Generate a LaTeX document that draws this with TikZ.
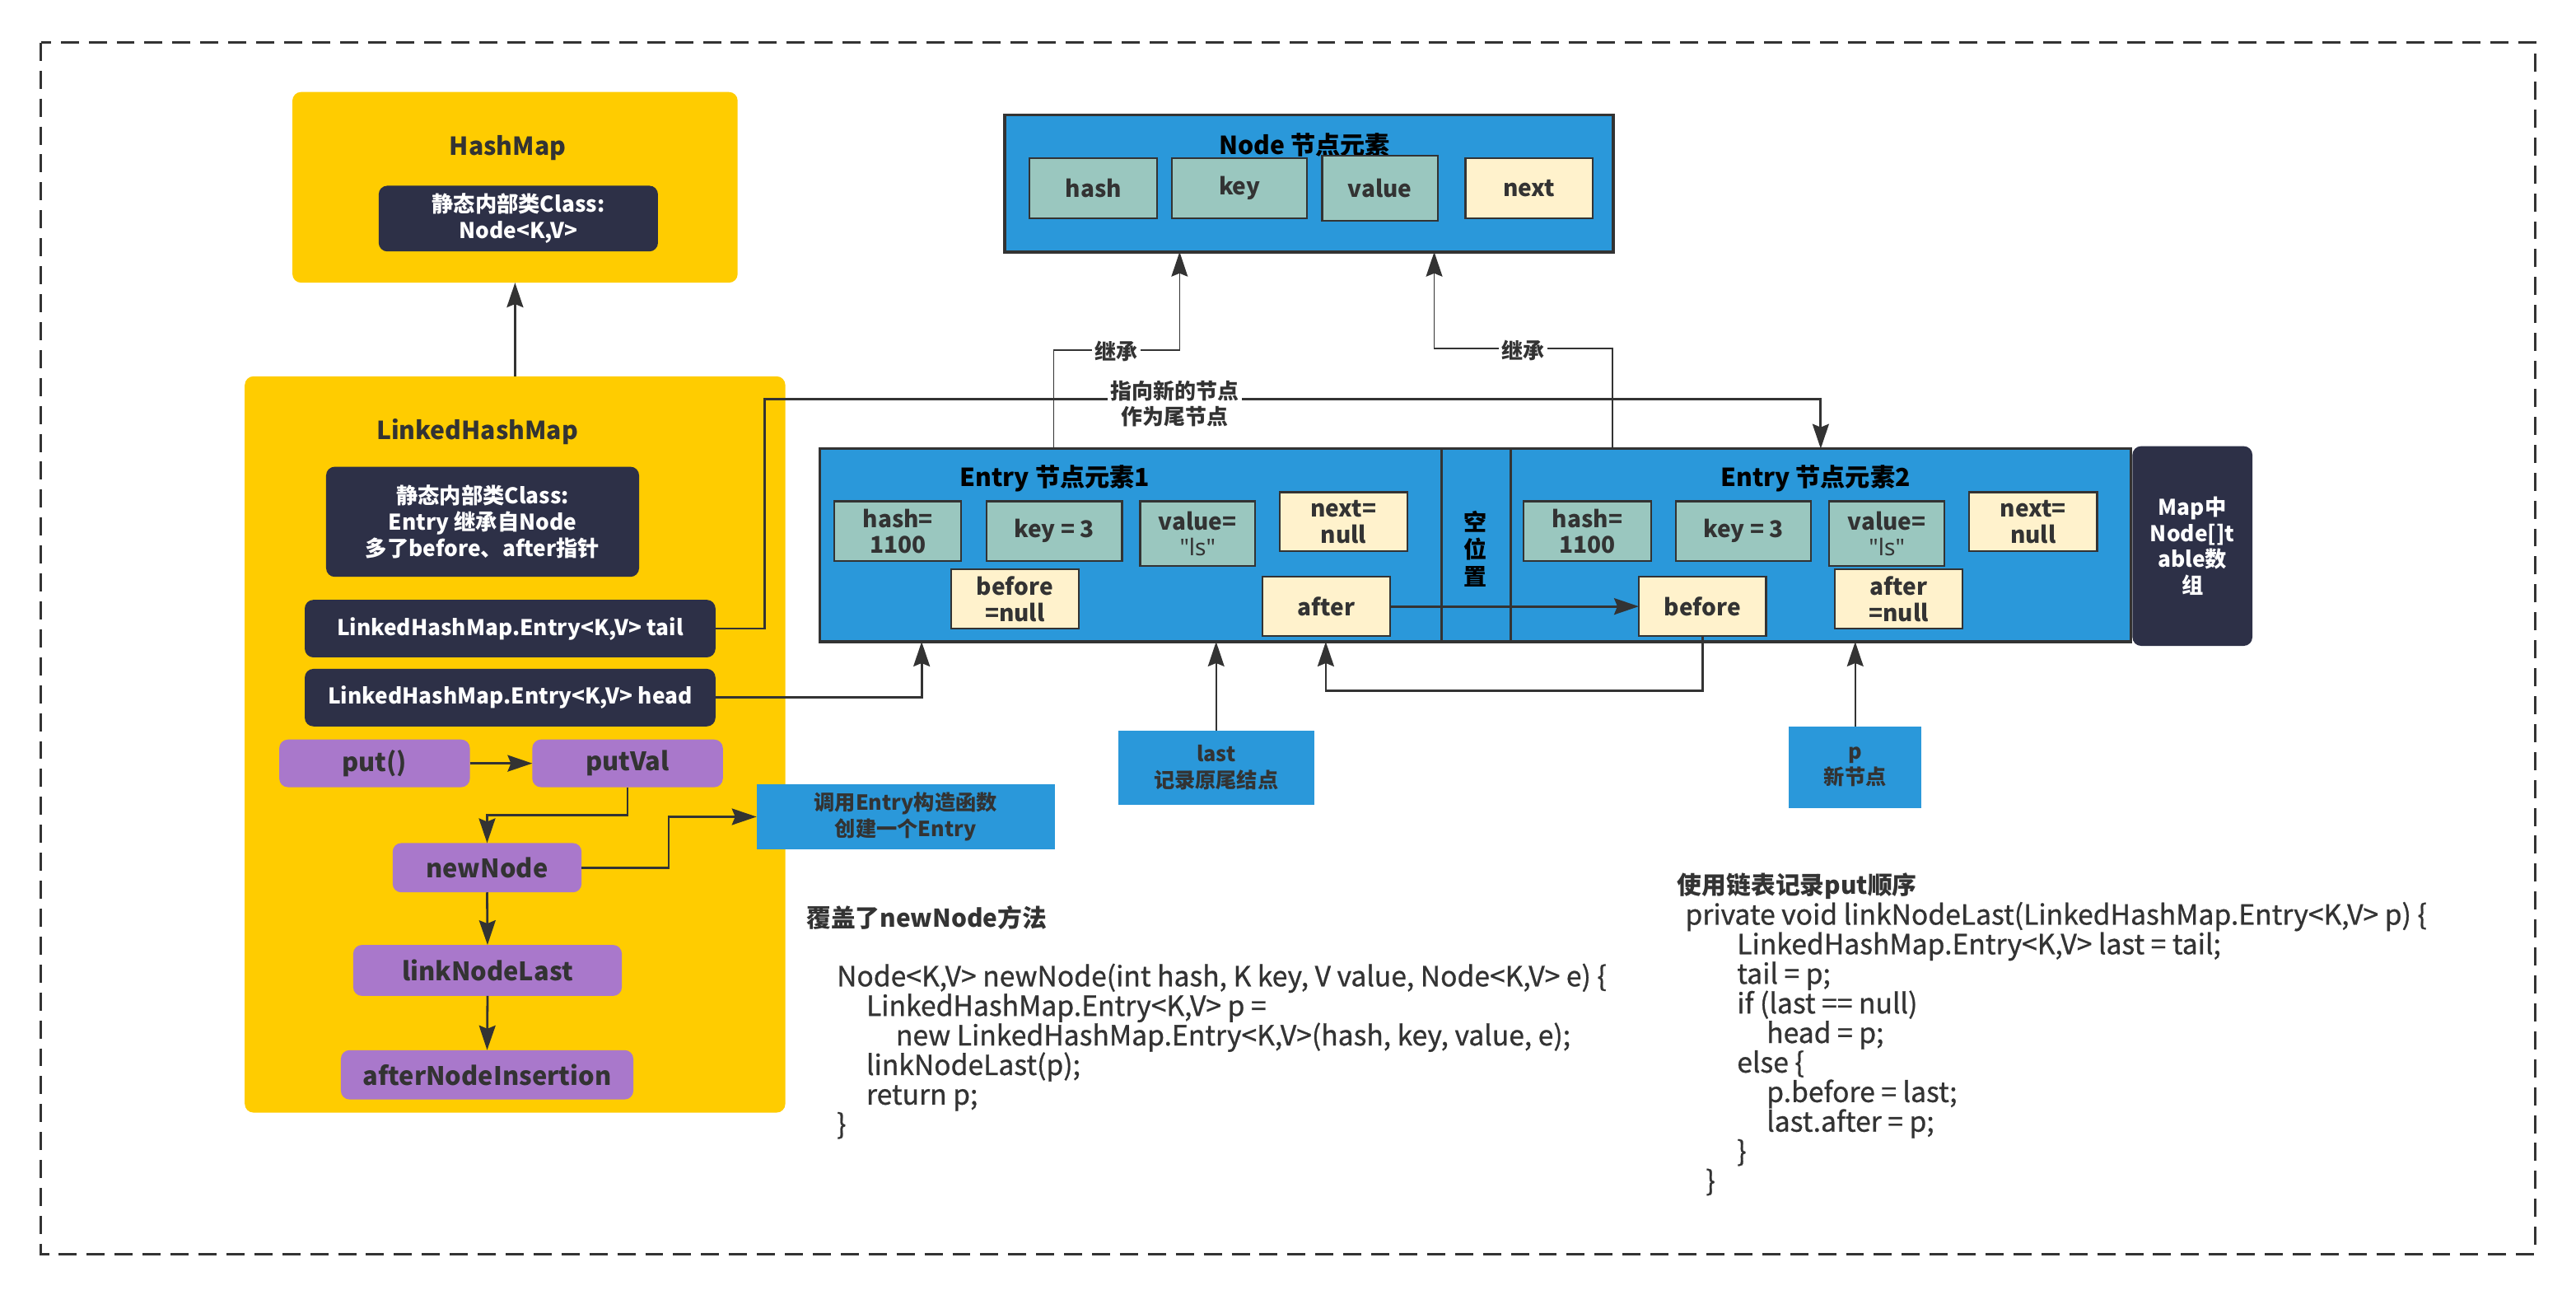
\documentclass[tikz,border=0pt]{standalone}
\usepackage{fontspec}
\setmainfont{Noto Sans CJK SC}
\newfontfamily\codefont{Noto Sans CJK SC}[FakeBold=0.8]
\newfontfamily\latinf{Noto Sans}
\usetikzlibrary{arrows.meta}
\definecolor{ylw}{HTML}{FFCC00}
\definecolor{navy}{HTML}{2D3047}
\definecolor{purp}{HTML}{A978CB}
\definecolor{blu}{HTML}{2A98DA}
\definecolor{tealc}{HTML}{9AC7BF}
\definecolor{cream}{HTML}{FFF2CC}
\definecolor{bord}{HTML}{333333}
\definecolor{txt}{HTML}{333333}
\newcommand{\mkbox}[7]{\node[#1,minimum width={(#5-#3)*0.02cm},minimum height={(#6-#4)*0.02cm}] (#2) at ({(#3+#5)/2},{(#4+#6)/2}) {#7};}
\newcommand{\lsq}{{\latinf\bfseries "ls"}}
\tikzset{
  bx/.style={rectangle,inner sep=0pt,outer sep=0pt,align=center,text=txt,font=\fontsize{8}{9}\selectfont\bfseries},
  ybox/.style={bx,fill=ylw,rounded corners=3pt},
  nbox/.style={bx,fill=navy,rounded corners=3pt,text=white,font=\fontsize{7.5}{9}\selectfont\bfseries},
  pbox/.style={bx,fill=purp,rounded corners=3pt,font=\fontsize{8.8}{10}\selectfont\bfseries},
  bbox/.style={bx,fill=blu,font=\fontsize{7.2}{8.9}\selectfont\bfseries},
  ebox/.style={bx,fill=blu,draw=bord,line width=1pt},
  tbox/.style={bx,fill=tealc,draw=bord,line width=0.6pt},
  cbox/.style={bx,fill=cream,draw=bord,line width=0.6pt},
  ttl/.style={inner sep=0pt,font=\fontsize{8.6}{10}\selectfont\bfseries,text=black},
  lbl/.style={inner sep=1pt,fill=white,text=txt,align=center,font=\fontsize{7.4}{8.8}\selectfont\bfseries},
  code/.style={inner sep=0pt,anchor=north west,align=left,text=txt,font=\fontsize{9.6}{10.24}\codefont},
  ctitle/.style={inner sep=0pt,anchor=base west,text=txt,font=\fontsize{8.5}{10}\selectfont\bfseries},
  tip/.style={-{Stealth[length=0.3cm,width=0.2cm,inset=0.04cm]}},
  conn/.style={draw=bord,line width=0.8pt,tip},
  thin/.style={draw=bord,line width=0.5pt,tip},
  inh/.style={draw=bord,line width=0.4pt,tip}
}
\begin{document}
\begin{tikzpicture}[x=0.02cm,y=-0.02cm]
\useasboundingbox (0,0) rectangle (1568,788);
\fill[white] (0,0) rectangle (1568,788);
\draw[bord,line width=0.8pt,dash pattern=on 0.22cm off 0.12cm] (25,26) rectangle (1543,763);

% left panel
\mkbox{ybox}{hashmap}{178}{56}{449}{172}{}
\node[ttl,text=txt] (hmt) at (309,90) {HashMap};
\mkbox{nbox}{hmcls}{230.5}{113}{400.5}{153}{静态内部类Class:\\Node<K,V>}
\mkbox{ybox}{lhm}{149}{229}{478}{677}{}
\node[ttl,text=txt] (lhmt) at (290.5,262.5) {LinkedHashMap};
\mkbox{nbox}{lhmcls}{198.5}{284}{389}{351}{静态内部类Class:\\Entry 继承自Node\\多了before、after指针}
\mkbox{nbox}{tail}{185.5}{365}{435.5}{400}{LinkedHashMap.Entry<K,V> tail}
\mkbox{nbox}{head}{185.5}{407}{435.5}{442}{LinkedHashMap.Entry<K,V> head}
\mkbox{pbox}{put}{170}{450}{286}{479}{put()}
\mkbox{pbox}{putval}{324}{450}{440}{479}{putVal}
\mkbox{pbox}{newnode}{239}{513}{354}{543}{newNode}
\mkbox{pbox}{lnl}{215}{575}{378.5}{606}{linkNodeLast}
\mkbox{pbox}{ani}{207.5}{639}{385.5}{669}{afterNodeInsertion}
\mkbox{bbox}{call}{460.5}{477}{642}{517}{调用Entry构造函数\\创建一个Entry}

\draw[conn] (lhm.north) -- (hashmap.south);
\draw[conn] (put.east) -- (putval.west);
\coordinate (pv) at (0,496);
\draw[conn] (putval.south) -- (putval.south |- pv) -| (newnode.north);
\draw[conn] (newnode.south) -- (lnl.north);
\draw[conn] (lnl.south) -- (ani.north);
\coordinate (nc) at (407,497);
\draw[conn] (newnode.east) -| (nc) -- (call.west);

% Node box
\mkbox{ebox}{nodebox}{611.5}{70}{982}{153.3}{}
\node[ttl] (nodet) at (794,88) {Node 节点元素};
\mkbox{tbox}{nhash}{626.8}{96.3}{704.4}{132.8}{hash}
\mkbox{tbox}{nkey}{713.5}{96.3}{795.5}{132.8}{key}
\mkbox{tbox}{nval}{804.8}{94.7}{875}{134.2}{value}
\mkbox{cbox}{nnext}{892}{96.3}{969.4}{132.8}{next}

% Entries
\mkbox{ebox}{entry1}{499}{273}{877.5}{390.5}{}
\mkbox{ebox}{empty}{877.5}{273}{919.5}{390.5}{}
\mkbox{ebox}{entry2}{919.5}{273}{1297}{390.5}{}
\node[ttl,align=center,font=\fontsize{8}{9.3}\selectfont\bfseries] (emptyt) at (898,334) {空\\位\\置};
\node[ttl] (e1t) at (642,291) {Entry 节点元素1};
\node[ttl] (e2t) at (1105,291) {Entry 节点元素2};
\mkbox{tbox}{h1}{508}{305}{585}{341.5}{hash=\\1100}
\mkbox{tbox}{k1b}{600.5}{305}{683}{341.5}{key = 3}
\mkbox{tbox}{v1}{694}{305}{764}{344.5}{value=\\\lsq}
\mkbox{cbox}{n1}{779}{299.5}{856.5}{335.5}{next=\\null}
\mkbox{cbox}{b1}{579}{346.5}{656.5}{382.5}{before\\=null}
\mkbox{cbox}{a1}{768.5}{351}{846}{387}{after}
\mkbox{tbox}{h2}{927.5}{305}{1005}{341.5}{hash=\\1100}
\mkbox{tbox}{k2b}{1020}{305}{1102.5}{341.5}{key = 3}
\mkbox{tbox}{v2}{1113.5}{305}{1183.5}{344.5}{value=\\\lsq}
\mkbox{cbox}{n2}{1198.5}{299.5}{1276.5}{335.5}{next=\\null}
\mkbox{cbox}{b2}{997.5}{351}{1075}{387}{before}
\mkbox{cbox}{a2}{1117}{346.5}{1194.5}{382.5}{after\\=null}
\mkbox{nbox}{maptab}{1298}{271.5}{1371}{393}{Map中\\Node[]t\\able数\\组}

\mkbox{bbox}{last}{680.5}{444.5}{800}{489.5}{last\\记录原尾结点}
\mkbox{bbox}{pnew}{1089}{442}{1169.5}{491.5}{p\\新节点}

% inheritance
\coordinate (ka) at (641.5,213);
\coordinate (kb) at (718,213);
\draw[inh] (entry1.north -| ka) -- (ka) -- (kb) -- (nodebox.south -| kb);
\node[lbl] (inh1) at (679.5,214) {继承};
\coordinate (kc) at (981.5,212);
\coordinate (kd) at (873,212);
\draw[inh] (entry2.north -| kc) -- (kc) -- (kd) -- (nodebox.south -| kd);
\node[lbl] (inh2) at (927,213) {继承};

% tail pointer
\coordinate (tt) at (465.5,243);
\draw[conn] (tail.east) -| (tt) -| (entry2.north);
\node[lbl] (tlbl) at (715,245.5) {指向新的节点\\作为尾节点};

% head pointer
\coordinate (hx) at (561,0);
\draw[conn] (head.east) -| (entry1.south -| hx);

% after -> before
\draw[conn] (a1.east) -- (b2.west);
\coordinate (lp) at (807,420.5);
\draw[conn] (b2.south) |- (lp) -- (entry1.south -| lp);

\draw[thin] (last.north) -- (entry1.south -| last.north);
\draw[thin] (pnew.north) -- (entry2.south -| pnew.north);

% code texts
\node[ctitle] (t1) at (490.5,564) {覆盖了newNode方法};
\node[code] (c1) at (509,586) {Node<K,V> newNode(int hash, K key, V value, Node<K,V> e) \{\\
\hspace*{0.36cm}LinkedHashMap.Entry<K,V> p =\\
\hspace*{0.72cm}new LinkedHashMap.Entry<K,V>(hash, key, value, e);\\
\hspace*{0.36cm}linkNodeLast(p);\\
\hspace*{0.36cm}return p;\\
\}};
\node[ctitle] (t2) at (1020.7,544) {使用链表记录put顺序};
\node[code] (c2) at (1025.5,548.5) {private void linkNodeLast(LinkedHashMap.Entry<K,V> p) \{\\
\hspace*{0.63cm}LinkedHashMap.Entry<K,V> last = tail;\\
\hspace*{0.63cm}tail = p;\\
\hspace*{0.63cm}if (last == null)\\
\hspace*{0.99cm}head = p;\\
\hspace*{0.63cm}else \{\\
\hspace*{0.99cm}p.before = last;\\
\hspace*{0.99cm}last.after = p;\\
\hspace*{0.63cm}\}\\
\hspace*{0.25cm}\}};
\end{tikzpicture}
\end{document}
